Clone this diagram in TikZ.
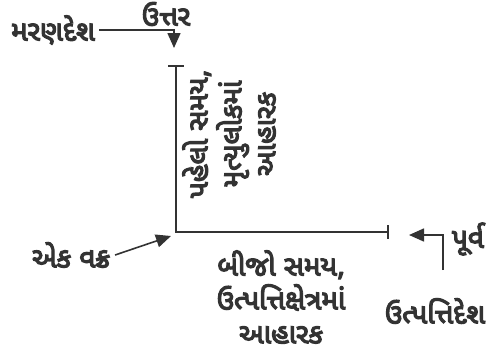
\documentclass[tikz,border=0pt]{standalone}
\usepackage{fontspec}
\usepackage{tikz}
\usetikzlibrary{arrows.meta}
\newfontfamily\guj[Script=Gujarati, FakeBold=4.5]{Noto Sans Gujarati UI}
\definecolor{ink-grey}{HTML}{333333}
\tikzset{
  gujtext/.style={text=ink-grey, font=\guj\fontsize{28}{34}\selectfont, align=center, inner sep=0pt},
  pointer/.style={ink-grey, line width=1.6bp, -{Triangle[length=15bp,width=13bp]}}
}

\begin{document}
\begin{tikzpicture}[x=1bp, y=-1bp]
    \useasboundingbox (0, 0) rectangle (488, 351);
    % the two steps of the bend
    \coordinate (top) at (176, 65);
    \coordinate (corner) at (176, 232);
    \coordinate (right) at (389, 232);
    \draw[ink-grey, line width=1.8bp, {Bar[width=16bp]}-{Bar[width=14bp]}] (top) -- (corner) -- (right);
    % labels
    \node[gujtext] (uttar) at (166, 14) {ઉત્તર};
    \node[gujtext] (marandesh) at (53, 30) {મરણદેશ};
    \node[gujtext, rotate=90] (pahelo) at (229, 134) {પહેલો સમય,\\મૃત્યુલોકમાં\\આહારક};
    \node[gujtext] (bijo) at (281, 297) {બીજો સમય,\\ઉત્પત્તિક્ષેત્રમાં\\આહારક};
    \node[gujtext] (ekvakra) at (71, 255) {એક વક્ર};
    \node[gujtext] (purv) at (468, 239) {પૂર્વ};
    \node[gujtext] (utpattidesh) at (435, 311) {ઉત્પત્તિદેશ};
    % arrows
    \coordinate (uttarTip) at (174, 48);
    \coordinate (vakraTip) at (171, 236);
    \coordinate (purvStart) at (443, 270);
    \coordinate (purvTip) at (409, 235);
    \draw[pointer] ([xshift=4bp]marandesh.east) -| (uttarTip);
    \draw[pointer] ([xshift=5bp]ekvakra.east) -- (vakraTip);
    \draw[pointer] (purvStart) |- (purvTip);
\end{tikzpicture}
\end{document}
